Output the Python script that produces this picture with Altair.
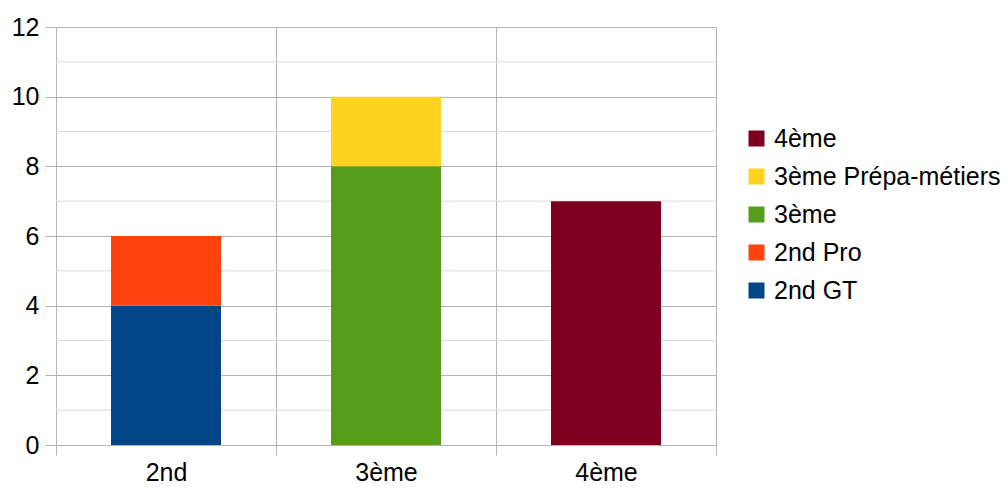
import altair as alt
import pandas as pd

categories = ["2nd", "2nd", "3ème", "3ème", "4ème"]
series = ["2nd GT", "2nd Pro", "3ème", "3ème Prépa-métiers", "4ème"]
values = [4, 2, 8, 2, 7]
stack_rank = [0, 1, 0, 1, 0]

legend_order = ["4ème", "3ème Prépa-métiers", "3ème", "2nd Pro", "2nd GT"]
legend_colors = ["#7e0021", "#ffd320", "#579d1c", "#ff420e", "#004586"]

major_ticks = [0, 2, 4, 6, 8, 10, 12]
minor_ticks = [1, 3, 5, 7, 9, 11]
x_labels = ["2nd", "3ème", "4ème"]

df = pd.DataFrame({"cat": categories, "serie": series, "val": values, "rank": stack_rank})
minor_df = pd.DataFrame({"v": minor_ticks})

FONT = "Liberation Sans"
FS = 25

y_scale = alt.Scale(domain=[0, 12])
y_axis = alt.Axis(
    title=None,
    values=major_ticks,
    grid=True,
    gridColor="#b3b3b3",
    tickColor="#b3b3b3",
    tickSize=11,
    domain=False,
    labelFont=FONT,
    labelFontSize=FS,
    labelColor="#000000",
    labelPadding=6,
)

minor = alt.Chart(minor_df).mark_rule(color="#dddddd", strokeWidth=1).encode(
    y=alt.Y("v:Q", scale=y_scale, axis=y_axis)
)

bars = alt.Chart(df).mark_bar(width=alt.RelativeBandSize(0.5)).encode(
    x=alt.X(
        "cat:N",
        sort=x_labels,
        scale=alt.Scale(paddingInner=0, paddingOuter=0),
        axis=alt.Axis(
            title=None,
            labelAngle=0,
            tickBand="extent",
            grid=True,
            gridColor="#b3b3b3",
            tickColor="#b3b3b3",
            tickSize=10,
            domain=False,
            labelFont=FONT,
            labelFontSize=FS,
            labelColor="#000000",
            labelPadding=5,
        ),
    ),
    y=alt.Y("val:Q", stack="zero", scale=y_scale, axis=y_axis),
    color=alt.Color(
        "serie:N",
        scale=alt.Scale(domain=legend_order, range=legend_colors),
        legend=alt.Legend(
            title=None,
            orient="none",
            legendX=688,
            legendY=99,
            symbolType="square",
            symbolSize=256,
            symbolStrokeWidth=0,
            labelFont=FONT,
            labelFontSize=FS,
            labelColor="#000000",
            labelLimit=400,
            rowPadding=12,
            labelOffset=5,
        ),
    ),
    order=alt.Order("rank:Q", sort="ascending"),
)

chart = alt.layer(minor, bars).properties(
    width=660,
    height=418,
    autosize=alt.AutoSizeParams(type="none"),
    padding={"left": 56, "top": 27, "right": 290, "bottom": 43},
    background="#ffffff",
).configure_view(stroke=None)

chart.save("out.html", embed_options={"renderer": "svg", "actions": False})
